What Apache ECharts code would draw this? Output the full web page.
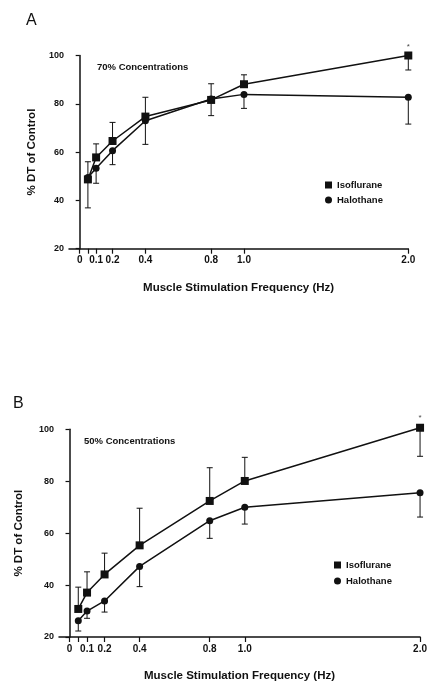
<!DOCTYPE html>
<html>
<head>
<meta charset="utf-8">
<script src="https://cdn.jsdelivr.net/npm/echarts@6/dist/echarts.min.js"></script>
<style>
html, body { margin: 0; background: #fff; }
#chart { width: 430px; height: 683px; }
</style>
</head>
<body>
<div id="chart"></div>
<script>
// frequencies (Hz)
var freq = [0.05, 0.1, 0.2, 0.4, 0.8, 1.0, 2.0];
var tickValues = [0, 0.05, 0.1, 0.2, 0.4, 0.8, 1.0, 2.0];
var labelValues = [0, 0.1, 0.2, 0.4, 0.8, 1.0, 2.0];

// panel A : 70% concentrations
var isoA = [48.7, 57.8, 64.6, 74.7, 81.6, 88.1, 100];
var isoErrA = [56, 63.4, 72.3, 82.7, 88.3, 92, 94];
var haloA = [49.5, 53.3, 60.6, 73, 82, 83.9, 82.7];
var haloErrA = [36.9, 47.1, 54.8, 63.2, 75.1, 78.1, 71.6];
var starA = [[2.0, 103.5]];

// panel B : 50% concentrations
var isoB = [30.8, 37.1, 44.1, 55.3, 72.4, 80.1, 100.6];
var isoErrB = [39.2, 45.1, 52.3, 69.6, 85.2, 89.2, 89.6];
var haloB = [26.3, 30, 33.9, 47.2, 64.8, 70, 75.6];
var haloErrB = [22.3, 27.2, 29.6, 39.4, 58, 63.5, 66.2];
var starB = [[2.0, 104.5]];

var font = "'Liberation Sans', Arial, sans-serif";

function pairs(xs, ys) {
	return xs.map(function(x, i) { return [x, ys[i]]; });
}
function errPairs(xs, ys, es) {
	return xs.map(function(x, i) { return [x, ys[i], es[i]]; });
}

function renderErr(params, api) {
	var p0 = api.coord([api.value(0), api.value(1)]);
	var p1 = api.coord([api.value(0), api.value(2)]);
	var style = { stroke: '#111', lineWidth: 1 };
	return {
		type: 'group',
		children: [
			{ type: 'line', shape: { x1: p0[0], y1: p0[1], x2: p1[0], y2: p1[1] }, style: style },
			{ type: 'line', shape: { x1: p1[0] - 3, y1: p1[1], x2: p1[0] + 3, y2: p1[1] }, style: style }
		]
	};
}

function xAxisFor(idx, min) {
	return {
		type: 'value', gridIndex: idx, min: min, max: 2.0,
		name: 'Muscle Stimulation Frequency (Hz)',
		nameLocation: 'middle', nameGap: 33,
		nameTextStyle: { color: '#111', fontFamily: font, fontWeight: 'bold', fontSize: 11.5 },
		axisLine: { onZero: false, lineStyle: { color: '#111', width: 1.5 } },
		axisTick: { show: true, length: 5, customValues: tickValues, lineStyle: { color: '#111', width: 1.2 } },
		axisLabel: {
			customValues: labelValues, color: '#111', fontFamily: font, fontWeight: 'bold', fontSize: 10, margin: 7,
			formatter: function(v) { return v === 0 ? '0' : v.toFixed(1); }
		},
		splitLine: { show: false }
	};
}

function yAxisFor(idx, gap) {
	return {
		type: 'value', gridIndex: idx, min: 20, max: 100, interval: 20,
		name: '% DT of Control',
		nameLocation: 'middle', nameGap: gap, nameRotate: 90,
		nameTextStyle: { color: '#111', fontFamily: font, fontWeight: 'bold', fontSize: 11.5 },
		axisLine: { show: true, lineStyle: { color: '#111', width: 1.5 } },
		axisTick: { show: true, length: 4, lineStyle: { color: '#111', width: 1.2 } },
		axisLabel: { color: '#111', fontFamily: font, fontWeight: 'bold', fontSize: 9, margin: 5 },
		splitLine: { show: false }
	};
}

function lineSeries(name, idx, data, symbol, size) {
	return {
		name: name, type: 'line', xAxisIndex: idx, yAxisIndex: idx,
		data: data, symbol: symbol, symbolSize: size, clip: false,
		lineStyle: { color: '#111', width: 1.5 },
		itemStyle: { color: '#111' },
		z: 3
	};
}

function errSeries(idx, data) {
	return {
		type: 'custom', xAxisIndex: idx, yAxisIndex: idx, data: data,
		renderItem: renderErr, clip: false, silent: true, z: 2
	};
}

function starSeries(idx, data) {
	return {
		type: 'scatter', xAxisIndex: idx, yAxisIndex: idx, data: data,
		symbolSize: 0, clip: false, silent: true,
		label: { show: true, formatter: '*', color: '#111', fontSize: 8, fontFamily: font, position: 'inside' }
	};
}

var myChart = echarts.init(document.getElementById('chart'));

var option = {
	animation: false,
	backgroundColor: '#fff',
	grid: [
		{ left: 69, top: 55.5, width: 339.3, height: 193.2 },
		{ left: 59, top: 429.3, width: 364.3, height: 210.7 }
	],
	xAxis: [xAxisFor(0, -0.065), xAxisFor(1, -0.06)],
	yAxis: [yAxisFor(0, 31), yAxisFor(1, 34)],
	legend: [
		{
			left: 320, top: 175, orient: 'vertical', itemGap: 5, itemWidth: 7, itemHeight: 7,
			textStyle: { color: '#111', fontFamily: font, fontWeight: 'bold', fontSize: 9.5 },
			data: [{ name: 'Isoflurane', icon: 'rect' }, { name: 'Halothane', icon: 'circle' }]
		},
		{
			left: 329, top: 555, orient: 'vertical', itemGap: 6, itemWidth: 7, itemHeight: 7,
			textStyle: { color: '#111', fontFamily: font, fontWeight: 'bold', fontSize: 9.5 },
			data: [{ name: 'Isoflurane', icon: 'rect' }, { name: 'Halothane', icon: 'circle' }]
		}
	],
	graphic: [
		{ type: 'text', left: 26, top: 13, style: { text: 'A', font: '16px ' + font, fill: '#111' } },
		{ type: 'text', left: 13, top: 396, style: { text: 'B', font: '16px ' + font, fill: '#111' } },
		{ type: 'text', left: 97, top: 62, style: { text: '70% Concentrations', font: 'bold 9.5px ' + font, fill: '#111' } },
		{ type: 'text', left: 84, top: 436, style: { text: '50% Concentrations', font: 'bold 9.5px ' + font, fill: '#111' } }
	],
	series: [
		errSeries(0, errPairs(freq, isoA, isoErrA)),
		errSeries(0, errPairs(freq, haloA, haloErrA)),
		lineSeries('Isoflurane', 0, pairs(freq, isoA), 'rect', 8),
		lineSeries('Halothane', 0, pairs(freq, haloA), 'circle', 7),
		starSeries(0, starA),
		errSeries(1, errPairs(freq, isoB, isoErrB)),
		errSeries(1, errPairs(freq, haloB, haloErrB)),
		lineSeries('Isoflurane', 1, pairs(freq, isoB), 'rect', 8),
		lineSeries('Halothane', 1, pairs(freq, haloB), 'circle', 7),
		starSeries(1, starB)
	]
};

myChart.setOption(option);

window.addEventListener('resize', function() {
	myChart.resize();
});
</script>
</body>
</html>
